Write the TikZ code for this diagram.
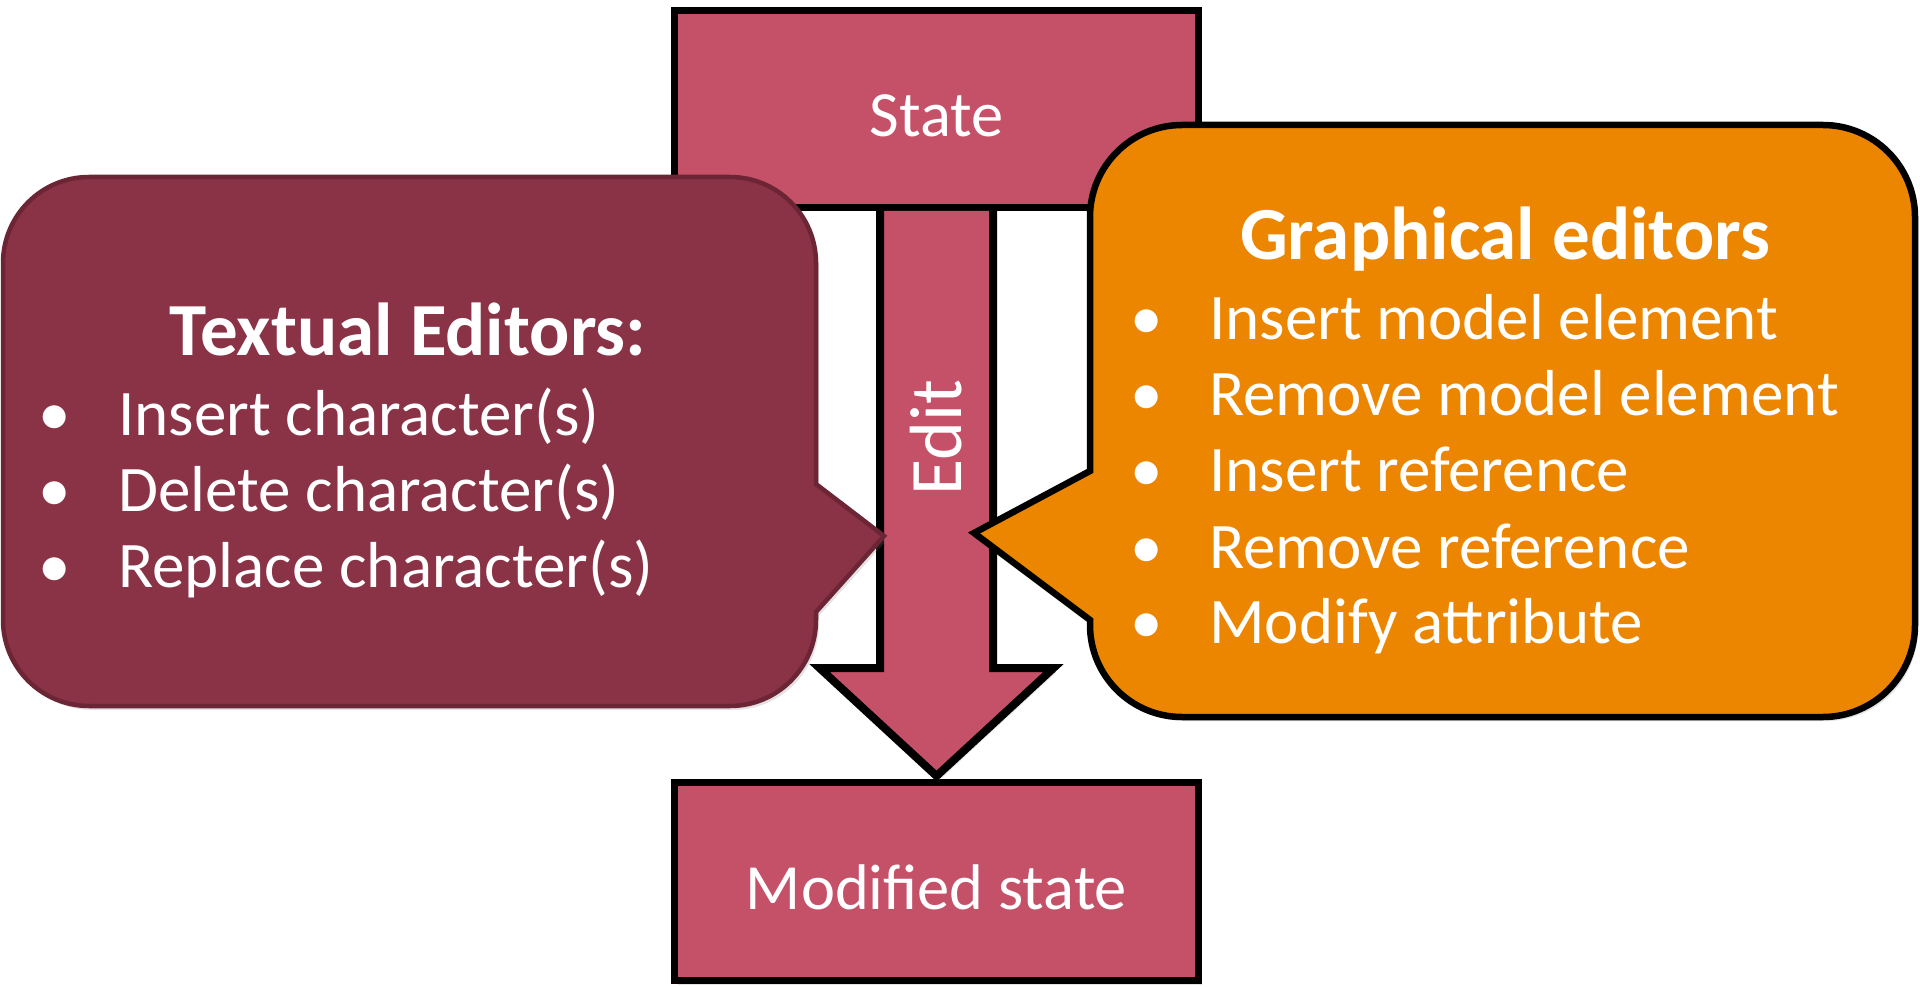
\documentclass[tikz,border=0pt]{standalone}
\usepackage{fontspec}
\setmainfont{Carlito}
\usetikzlibrary{shadows,calc}

\definecolor{statepink}{HTML}{C55169}
\definecolor{textmaroon}{HTML}{8B3346}
\definecolor{textedge}{HTML}{6B2535}
\definecolor{graphorange}{HTML}{EC8600}

\tikzset{
  softshadow/.style={drop shadow={opacity=0.22, shadow xshift=3pt, shadow yshift=-4pt}},
  statebox/.style={draw=black, line width=7pt, fill=statepink, text=white,
    minimum width=524pt, minimum height=197pt, inner sep=0pt,
    text height=56pt, text depth=0pt,
    font=\fontsize{64.5}{78}\selectfont, softshadow},
  editarrow/.style={draw=black, line width=8pt, fill=statepink, line join=miter, softshadow},
  textcallout/.style={draw=textedge, line width=4.5pt, fill=textmaroon, softshadow},
  graphcallout/.style={draw=black, line width=6.5pt, fill=graphorange, softshadow},
  bodytext/.style={text=white, inner sep=0pt, font=\fontsize{65}{78}\selectfont},
  headtext/.style={text=white, inner sep=0pt, anchor=base, font=\bfseries\fontsize{75}{90}\selectfont},
  itemtext/.style={bodytext, anchor=base west},
  itemdot/.style={bodytext, anchor=base},
}

\begin{document}
\begin{tikzpicture}[x=1pt,y=-1pt]
\useasboundingbox (0,0) rectangle (1920,987);
\fill[white] (0,0) rectangle (1920,987);

% the two states
\node[statebox] (state) at (936.5,109) {State};
\node[statebox, minimum height=198pt] (mod) at (936.5,881.5) {Modified state};

% block arrow from the state to the modified state
\path[editarrow]
  ($(state.south)+(-56.5,0)$) -- ($(mod.north)+(-56.5,-111)$)
  -- ($(mod.north)+(-117,-111)$) -- ($(mod.north)+(0,-3)$)
  -- ($(mod.north)+(117,-111)$) -- ($(mod.north)+(56.5,-111)$)
  -- ($(state.south)+(56.5,0)$);
\node[bodytext, font=\fontsize{74}{88}\selectfont, rotate=90] (edit) at (936.5,438) {Edit};

% callout for textual editors, pointing at the arrow
\path[textcallout]
  (89,177) -- (730,177) arc[start angle=270, end angle=360, radius=86]
  -- (816,484) -- (884,536) -- (816,612)
  -- (816,620) arc[start angle=0, end angle=90, radius=86]
  -- (89,706) arc[start angle=90, end angle=180, radius=86]
  -- (3,263) arc[start angle=180, end angle=270, radius=86] -- cycle;
\node[headtext] (thead) at (408,355) {Textual Editors:};
\foreach \i/\yy/\txt in {1/435/Insert character(s), 2/511/Delete character(s), 3/587/Replace character(s)}{
  \node[itemdot] (tdot\i) at (55,\yy) {•};
  \node[itemtext] (titem\i) at (118,\yy) {\txt};
}

% callout for graphical editors, pointing at the arrow
\path[graphcallout]
  (1182,125) -- (1823,125) arc[start angle=270, end angle=360, radius=92]
  -- (1915,625) arc[start angle=0, end angle=90, radius=92]
  -- (1182,717) arc[start angle=90, end angle=180, radius=92]
  -- (1090,620) -- (974,533) -- (1090,471)
  -- (1090,217) arc[start angle=180, end angle=270, radius=92] -- cycle;
\node[headtext] (ghead) at (1505,260) {Graphical editors};
\foreach \i/\yy/\txt in {1/339/Insert model element, 2/415/Remove model element, 3/491/Insert reference, 4/568/Remove reference, 5/643/Modify attribute}{
  \node[itemdot] (gdot\i) at (1147,\yy) {•};
  \node[itemtext] (gitem\i) at (1209,\yy) {\txt};
}
\end{tikzpicture}
\end{document}
